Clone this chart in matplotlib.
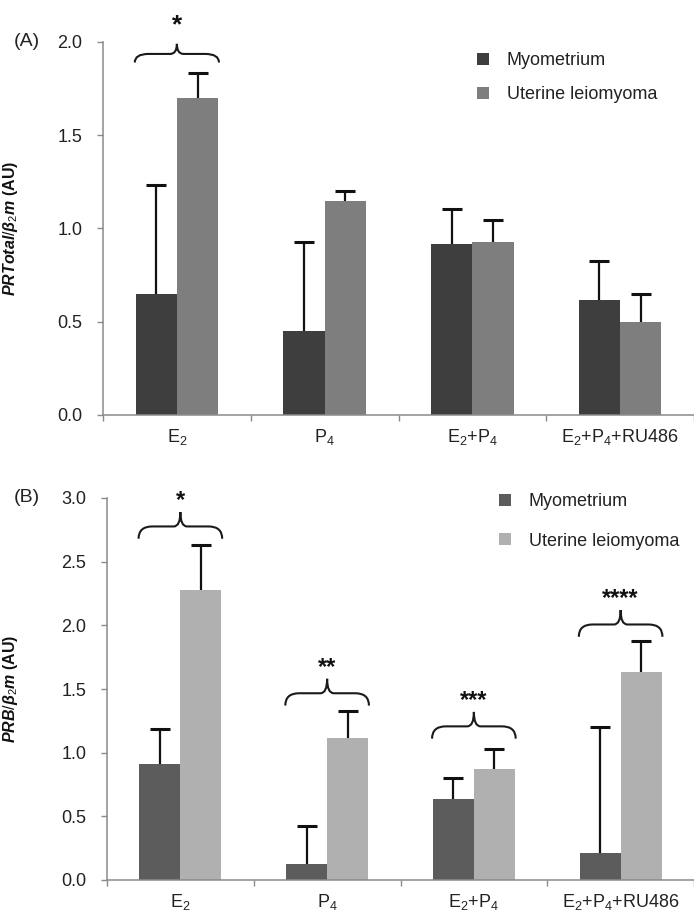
import numpy as np
import matplotlib
matplotlib.use('Agg')
import matplotlib.pyplot as plt
from matplotlib.path import Path
from matplotlib.patches import PathPatch

plt.rcParams['font.family'] = ['Liberation Sans', 'DejaVu Sans']
plt.rcParams['mathtext.fontset'] = 'custom'
plt.rcParams['mathtext.rm'] = 'Liberation Sans'
plt.rcParams['mathtext.it'] = 'Liberation Sans:italic:bold'
plt.rcParams['mathtext.bf'] = 'Liberation Sans:bold'
plt.rcParams['mathtext.default'] = 'regular'

# 数据
categories = ['E$_2$', 'P$_4$', 'E$_2$+P$_4$', 'E$_2$+P$_4$+RU486']
series = ['Myometrium', 'Uterine leiomyoma']

# (A) PRTotal/β2m
a_myo = [0.65, 0.45, 0.915, 0.615]
a_myo_err = [0.585, 0.48, 0.19, 0.21]
a_leio = [1.70, 1.15, 0.925, 0.50]
a_leio_err = [0.135, 0.05, 0.123, 0.147]
a_sig_groups = [0]
a_sig_labels = ['*']
a_sig_base = [1.89]

# (B) PRB/β2m
b_myo = [0.913, 0.126, 0.64, 0.21]
b_myo_err = [0.27, 0.30, 0.16, 0.99]
b_leio = [2.276, 1.118, 0.874, 1.63]
b_leio_err = [0.355, 0.21, 0.156, 0.25]
b_sig_groups = [0, 1, 2, 3]
b_sig_labels = ['*', '**', '***', '****']
b_sig_base = [2.68, 1.37, 1.11, 1.91]

W, H = 694, 924
fig = plt.figure(figsize=(W / 100, H / 100), dpi=100)

bw = 0.28
x = np.arange(len(categories))


def brace(ax, xc, half, yb, h):
    x0, x1 = xc - half, xc + half
    yh = yb + 0.46 * h
    yt = yb + h
    we = 0.33 * half
    wm = 0.16 * half
    verts = [(x0, yb), (x0, yh), (x0 + we, yh), (xc - wm, yh), (xc, yh), (xc, yt),
             (xc, yh), (xc + wm, yh), (x1 - we, yh), (x1, yh), (x1, yb)]
    codes = [Path.MOVETO, Path.CURVE3, Path.CURVE3, Path.LINETO, Path.CURVE3, Path.CURVE3,
             Path.CURVE3, Path.CURVE3, Path.LINETO, Path.CURVE3, Path.CURVE3]
    ax.add_patch(PathPatch(Path(verts, codes), fill=False, lw=1.5, ec='#1a1a1a',
                           clip_on=False))
    return yt


def panel(rect, myo, myo_err, leio, leio_err, colors, ymax, ylabel, tag,
          sig_groups, sig_labels, sig_base, brace_h, star_gap, star_size,
          leg_xy, leg_space):
    l, b, w, h = rect
    ax = fig.add_axes([l / W, 1 - b / H, w / W, (b - h) / H])
    err_kw = dict(ecolor='#111111', elinewidth=1.6, capsize=7.5, capthick=2.2)
    bars1 = ax.bar(x - bw / 2, myo, bw, color=colors[0],
                   yerr=[np.zeros(4), myo_err], error_kw=err_kw, label=series[0])
    bars2 = ax.bar(x + bw / 2, leio, bw, color=colors[1],
                   yerr=[np.zeros(4), leio_err], error_kw=err_kw, label=series[1])
    # 只保留上方的误差帽
    for bc in (bars1, bars2):
        caps = bc.errorbar.lines[1]
        caps[0].set_visible(False)

    ax.set_xlim(-0.5, -0.5 + w / 149)
    ax.set_ylim(0, ymax)
    ax.set_yticks(np.arange(0, ymax + 0.01, 0.5))
    ax.set_yticklabels([f'{v:.1f}' for v in np.arange(0, ymax + 0.01, 0.5)])
    ax.set_xticks(x)
    ax.set_xticklabels(categories)
    ax.set_xticks(np.arange(-0.5, 4, 1), minor=True)
    ax.tick_params(axis='x', which='major', length=0, pad=9, labelsize=13, colors='#222222')
    ax.tick_params(axis='x', which='minor', length=4, width=1, color='#8a8a8a')
    ax.tick_params(axis='y', length=4, width=1, color='#8a8a8a', pad=11,
                   labelsize=13, labelcolor='#222222')
    for s in ['top', 'right']:
        ax.spines[s].set_visible(False)
    for s in ['left', 'bottom']:
        ax.spines[s].set_color('#8a8a8a')
        ax.spines[s].set_linewidth(1.1)

    ax.set_ylabel(ylabel, fontsize=11.5, fontweight='bold', color='#111111')
    ax.yaxis.set_label_coords((20 - l) / w, 0.5)

    fig.text(14 / W, 1 - h / H, tag, fontsize=14, va='center',
             ha='left', color='#222222')

    for g, lab, yb in zip(sig_groups, sig_labels, sig_base):
        yt = brace(ax, x[g], 0.285, yb, brace_h)
        ax.text(x[g], yt + star_gap, lab, ha='center', va='center', fontsize=star_size,
                fontweight='bold', color='#111111', clip_on=False)

    ax.legend([bars1, bars2], series, loc='upper left',
              bbox_to_anchor=(leg_xy[0] / W, 1 - leg_xy[1] / H),
              bbox_transform=fig.transFigure, frameon=False, fontsize=13,
              handlelength=0.65, handleheight=0.65, handletextpad=1.0,
              labelspacing=leg_space, borderpad=0, borderaxespad=0,
              labelcolor='#222222')
    return ax


panel((103, 415, 591, 42), a_myo, a_myo_err, a_leio, a_leio_err,
      ['#3e3e3e', '#7e7e7e'], 2.0, r'$\mathit{PRTotal/\beta_2m}$ (AU)', '(A)',
      a_sig_groups, a_sig_labels, a_sig_base, 0.10, 0.10, 19, (477, 52), 0.95)

panel((107, 880, 587, 498), b_myo, b_myo_err, b_leio, b_leio_err,
      ['#5c5c5c', '#b0b0b0'], 3.0, r'$\mathit{PRB/\beta_2m}$ (AU)', '(B)',
      b_sig_groups, b_sig_labels, b_sig_base, 0.21, 0.09, 17, (499, 493), 1.25)

fig.savefig('out.png', dpi=100)
